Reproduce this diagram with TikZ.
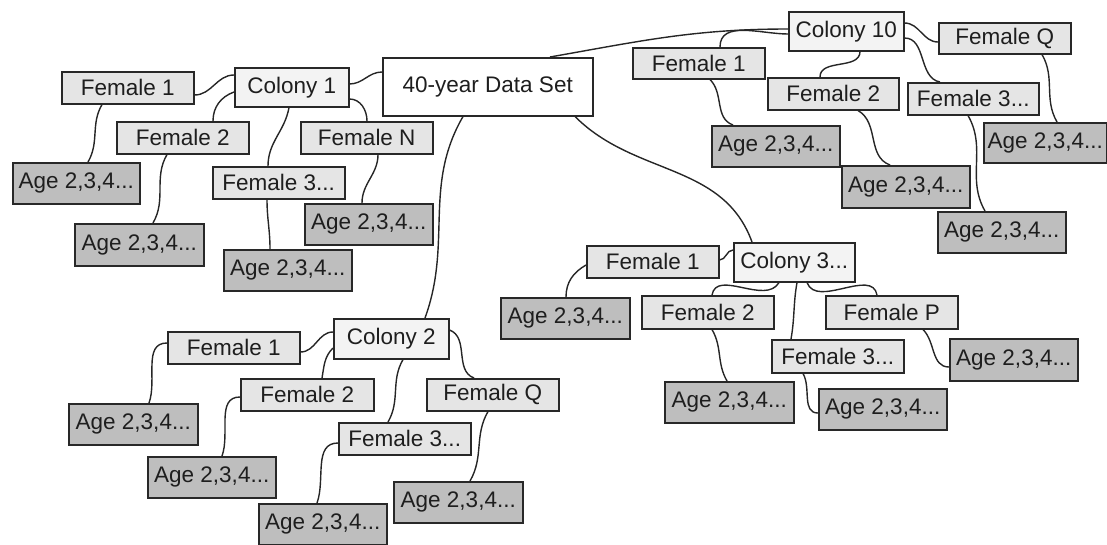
\documentclass[tikz,border=0pt]{standalone}
\usepackage{fontspec}
\setmainfont{Liberation Sans}
\usetikzlibrary{calc}
\definecolor{agefill}{RGB}{190,190,190}
\definecolor{femfill}{RGB}{229,229,229}
\definecolor{colfill}{RGB}{243,243,243}
\definecolor{edge}{RGB}{40,40,40}
\definecolor{txt}{RGB}{30,30,30}
\newcommand\bx[7]{\node[#2, anchor=north west, minimum width=#5pt-#3pt, minimum height=#6pt-#4pt] (#1) at (#3,#4) {#7};}
\begin{document}
\begin{tikzpicture}[x=1pt,y=-1pt,
  box/.style={draw=edge, line width=1.5pt, inner sep=0pt, text=txt, font=\fontsize{22.5}{25}\selectfont},
  rootbox/.style={box, fill=white},
  colbox/.style={box, fill=colfill},
  fembox/.style={box, fill=femfill},
  agebox/.style={box, fill=agefill},
  conn/.style={draw=black!85, line width=1.4pt}]
\useasboundingbox (0,0) rectangle (1107,544);

% root
\bx{root}{rootbox}{382}{57}{592}{115}{40-year Data Set}
% colony 1
\bx{c1}{colbox}{234}{67}{348}{106}{Colony 1}
\bx{c1f1}{fembox}{61}{71}{193}{103}{Female 1}
\bx{c1f2}{fembox}{116}{121}{248}{153}{Female 2}
\bx{c1f3}{fembox}{212}{166}{344}{198}{Female 3...}
\bx{c1fn}{fembox}{300}{121}{432}{153}{Female N}
\bx{c1a1}{agebox}{12}{162}{139}{203}{Age 2,3,4...}
\bx{c1a2}{agebox}{74}{223}{203}{265}{Age 2,3,4...}
\bx{c1a3}{agebox}{223}{249}{351}{290}{Age 2,3,4...}
\bx{c1an}{agebox}{304}{203}{432}{244}{Age 2,3,4...}
% colony 10
\bx{c10}{colbox}{788}{11}{903}{50}{Colony 10}
\bx{c10fq}{fembox}{938}{22}{1070}{53}{Female Q}
\bx{c10f1}{fembox}{632}{47}{764}{78}{Female 1}
\bx{c10f2}{fembox}{767}{77}{898}{109}{Female 2}
\bx{c10f3}{fembox}{907}{82}{1038}{114}{Female 3...}
\bx{c10a1}{agebox}{711}{125}{839}{166}{Age 2,3,4...}
\bx{c10a2}{agebox}{841}{165}{969}{207}{Age 2,3,4...}
\bx{c10a3}{agebox}{937}{211}{1065}{252}{Age 2,3,4...}
\bx{c10aq}{agebox}{983}{122}{1106}{162}{Age 2,3,4...}
% colony 3
\bx{c3}{colbox}{733}{242}{854}{281}{Colony 3...}
\bx{c3f1}{fembox}{586}{245}{718}{277}{Female 1}
\bx{c3f2}{fembox}{641}{295}{773}{328}{Female 2}
\bx{c3f3}{fembox}{771}{339}{903}{372}{Female 3...}
\bx{c3fp}{fembox}{825}{295}{957}{328}{Female P}
\bx{c3a1}{agebox}{500}{297}{629}{338}{Age 2,3,4...}
\bx{c3a2}{agebox}{664}{381}{793}{422}{Age 2,3,4...}
\bx{c3a3}{agebox}{818}{388}{946}{429}{Age 2,3,4...}
\bx{c3ap}{agebox}{949}{338}{1077}{380}{Age 2,3,4...}
% colony 2
\bx{c2}{colbox}{333}{318}{448}{358}{Colony 2}
\bx{c2f1}{fembox}{167}{331}{299}{363}{Female 1}
\bx{c2f2}{fembox}{240}{378}{373}{410}{Female 2}
\bx{c2f3}{fembox}{338}{422}{470}{454}{Female 3...}
\bx{c2fq}{fembox}{426}{378}{558}{410}{Female Q}
\bx{c2a1}{agebox}{68}{403}{197}{444}{Age 2,3,4...}
\bx{c2a2}{agebox}{147}{456}{275}{497}{Age 2,3,4...}
\bx{c2a3}{agebox}{258}{503}{386}{544}{Age 2,3,4...}
\bx{c2aq}{agebox}{393}{481}{522}{522}{Age 2,3,4...}

% root connectors
\draw[conn] ($(root.north west)+(0,15)$) to[out=180,in=0] ($(c1.north east)+(0,17)$);
\draw[conn] ($(root.north west)+(168,0)$) to[out=10,in=180] ($(c10.north west)+(0,18)$);
\draw[conn] ($(root.south west)+(193,0)$) to[out=-45,in=110] ($(c3.north west)+(19,0)$);
\draw[conn] ($(root.south west)+(81,0)$) to[out=-120,in=70] ($(c2.north west)+(92,0)$);

% colony 1 connectors
\draw[conn] ($(c1.north west)+(0,8)$) to[out=180,in=0] ($(c1f1.north east)+(0,24)$);
\draw[conn] ($(c1.north west)+(0,25)$) to[out=200,in=90] ($(c1f2.north west)+(97,0)$);
\draw[conn] ($(c1.south west)+(55,0)$) to[out=-100,in=90] ($(c1f3.north west)+(56,0)$);
\draw[conn] ($(c1.north east)+(0,32)$) to[out=0,in=90] ($(c1fn.north west)+(67,0)$);
\draw[conn] ($(c1f1.south west)+(41,0)$) to[out=-120,in=60] ($(c1a1.north west)+(76,0)$);
\draw[conn] ($(c1f2.south west)+(51,0)$) to[out=-120,in=60] ($(c1a2.north west)+(79,0)$);
\draw[conn] ($(c1f3.south west)+(55,0)$) to[out=-90,in=90] ($(c1a3.north west)+(47,0)$);
\draw[conn] ($(c1fn.south west)+(78,0)$) to[out=-90,in=90] ($(c1an.north west)+(58,0)$);

% colony 10 connectors
\draw[conn] ($(c10.north west)+(0,23)$) to[out=180,in=90] ($(c10f1.north west)+(88,0)$);
\draw[conn] ($(c10.south west)+(72,0)$) to[out=-90,in=90] ($(c10f2.north west)+(53,0)$);
\draw[conn] ($(c10.north east)+(0,27)$) to[out=0,in=170] ($(c10f3.north west)+(33,0)$);
\draw[conn] ($(c10.north east)+(0,12)$) to[out=0,in=180] ($(c10fq.north west)+(0,20)$);
\draw[conn] ($(c10f1.south west)+(78,0)$) to[out=-45,in=160] ($(c10a1.north west)+(22,0)$);
\draw[conn] ($(c10f2.south west)+(91,0)$) to[out=-30,in=160] ($(c10a2.north west)+(49,0)$);
\draw[conn] ($(c10f3.south west)+(61,0)$) to[out=-60,in=120] ($(c10a3.north west)+(48,0)$);
\draw[conn] ($(c10fq.south west)+(104,0)$) to[out=-60,in=120] ($(c10aq.north west)+(74,0)$);

% colony 3 connectors
\draw[conn] ($(c3.north west)+(0,8)$) to[out=180,in=0] ($(c3f1.north east)+(0,15)$);
\draw[conn] ($(c3.south west)+(46,0)$) to[out=-120,in=80] ($(c3f2.north west)+(71,0)$);
\draw[conn] ($(c3.south west)+(64,0)$) to[out=-100,in=80] ($(c3f3.north west)+(20,0)$);
\draw[conn] ($(c3.south west)+(74,0)$) to[out=-70,in=100] ($(c3fp.north west)+(52,0)$);
\draw[conn] ($(c3f1.north west)+(0,20)$) to[out=-150,in=90] ($(c3a1.north west)+(66,0)$);
\draw[conn] ($(c3f2.south west)+(71,0)$) to[out=-60,in=120] ($(c3a2.north west)+(63,0)$);
\draw[conn] ($(c3f3.south west)+(32,0)$) to[out=-60,in=180] ($(c3a3.north west)+(0,25)$);
\draw[conn] ($(c3fp.south west)+(98,0)$) to[out=-45,in=180] ($(c3ap.north west)+(0,29)$);

% colony 2 connectors
\draw[conn] ($(c2.north west)+(0,14)$) to[out=180,in=0] ($(c2f1.north east)+(0,21)$);
\draw[conn] ($(c2.north west)+(0,30)$) to[out=-135,in=80] ($(c2f2.north west)+(82,0)$);
\draw[conn] ($(c2.south west)+(70,0)$) to[out=-120,in=60] ($(c2f3.north west)+(50,0)$);
\draw[conn] ($(c2.north east)+(0,12)$) to[out=-20,in=160] ($(c2fq.north west)+(48,0)$);
\draw[conn] ($(c2f1.north west)+(0,12)$) to[out=180,in=70] ($(c2a1.north west)+(81,0)$);
\draw[conn] ($(c2f2.north west)+(0,19)$) to[out=180,in=70] ($(c2a2.north west)+(75,0)$);
\draw[conn] ($(c2f3.north west)+(0,21)$) to[out=180,in=70] ($(c2a3.north west)+(59,0)$);
\draw[conn] ($(c2fq.south west)+(62,0)$) to[out=-120,in=60] ($(c2aq.north west)+(77,0)$);
\end{tikzpicture}
\end{document}
